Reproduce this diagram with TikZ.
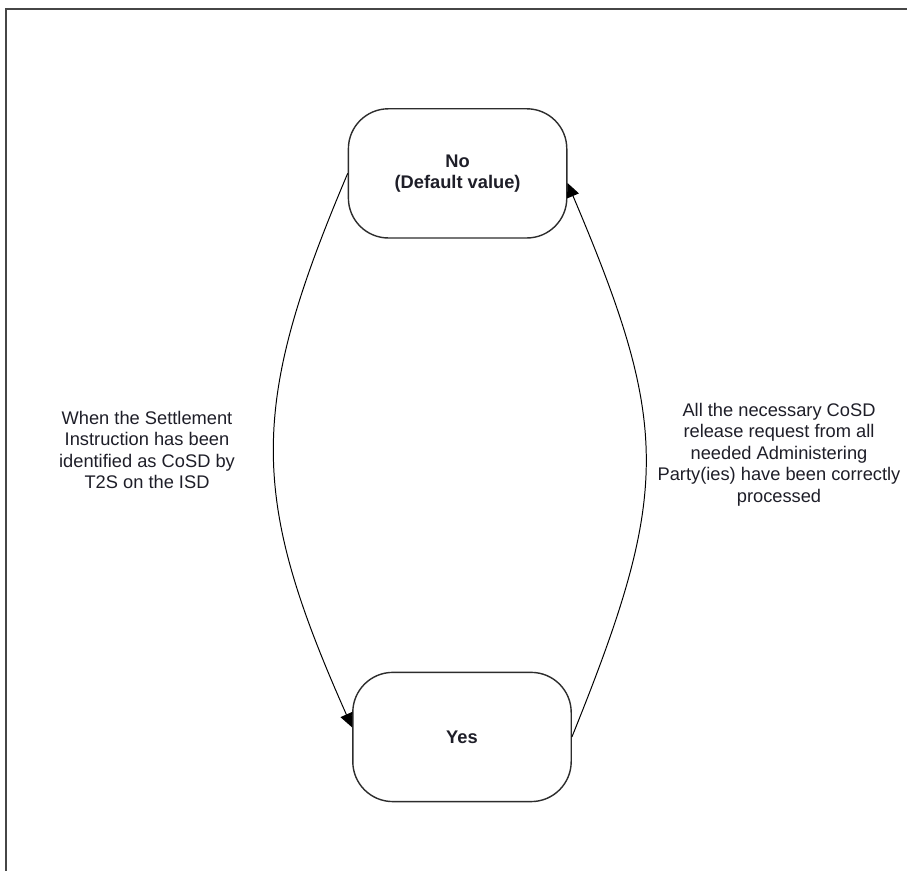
\documentclass[tikz,border=0pt]{standalone}
\usepackage{fontspec}
\setmainfont{Liberation Sans}
\usepackage{tikz}
\usetikzlibrary{positioning,calc}
\usetikzlibrary{arrows.meta}
\definecolor{FrameGray}{RGB}{70,70,70}
\definecolor{LineGray}{RGB}{45,45,45}
\definecolor{TextInk}{RGB}{30,30,40}
\tikzset{
  state/.style={draw=LineGray,line width=1pt,fill=white,rounded corners=1cm,
    minimum width=5.46cm,minimum height=3.23cm,align=center,
    font=\fontsize{13}{15.2}\selectfont\bfseries,text=TextInk},
  trans/.style={draw=black,line width=0.7pt,-{Triangle[length=10pt,width=9pt]}},
  note/.style={align=center,font=\fontsize{13}{15.3}\selectfont,text=TextInk},
}
\tikzset{frame/.style={draw=FrameGray,line width=1.4pt}}
\begin{document}
\begin{tikzpicture}[scale=1]
\useasboundingbox (0,0) rectangle (22.675,21.775);
\draw[frame] (0.15,0) -- (0.15,21.55) -- (22.675,21.55);
\node[state] (no) at (11.44,17.44) {No\\(Default value)};
\node[state] (yes) at (11.55,3.35) {Yes};
\draw[trans] (no.west) to[out=-113,in=114,looseness=1.17] (yes.175);
\draw[trans] (yes.east) to[out=68,in=-67,looseness=1.22] (no.-5);
\node[note] (setlab) at (3.675,10.53) {When the Settlement\\Instruction has been\\identified as CoSD by\\T2S on the ISD};
\node[note] (rellab) at (19.475,10.41) {All the necessary CoSD\\release request from all\\needed Administering\\Party(ies) have been correctly\\processed};
\end{tikzpicture}
\end{document}
